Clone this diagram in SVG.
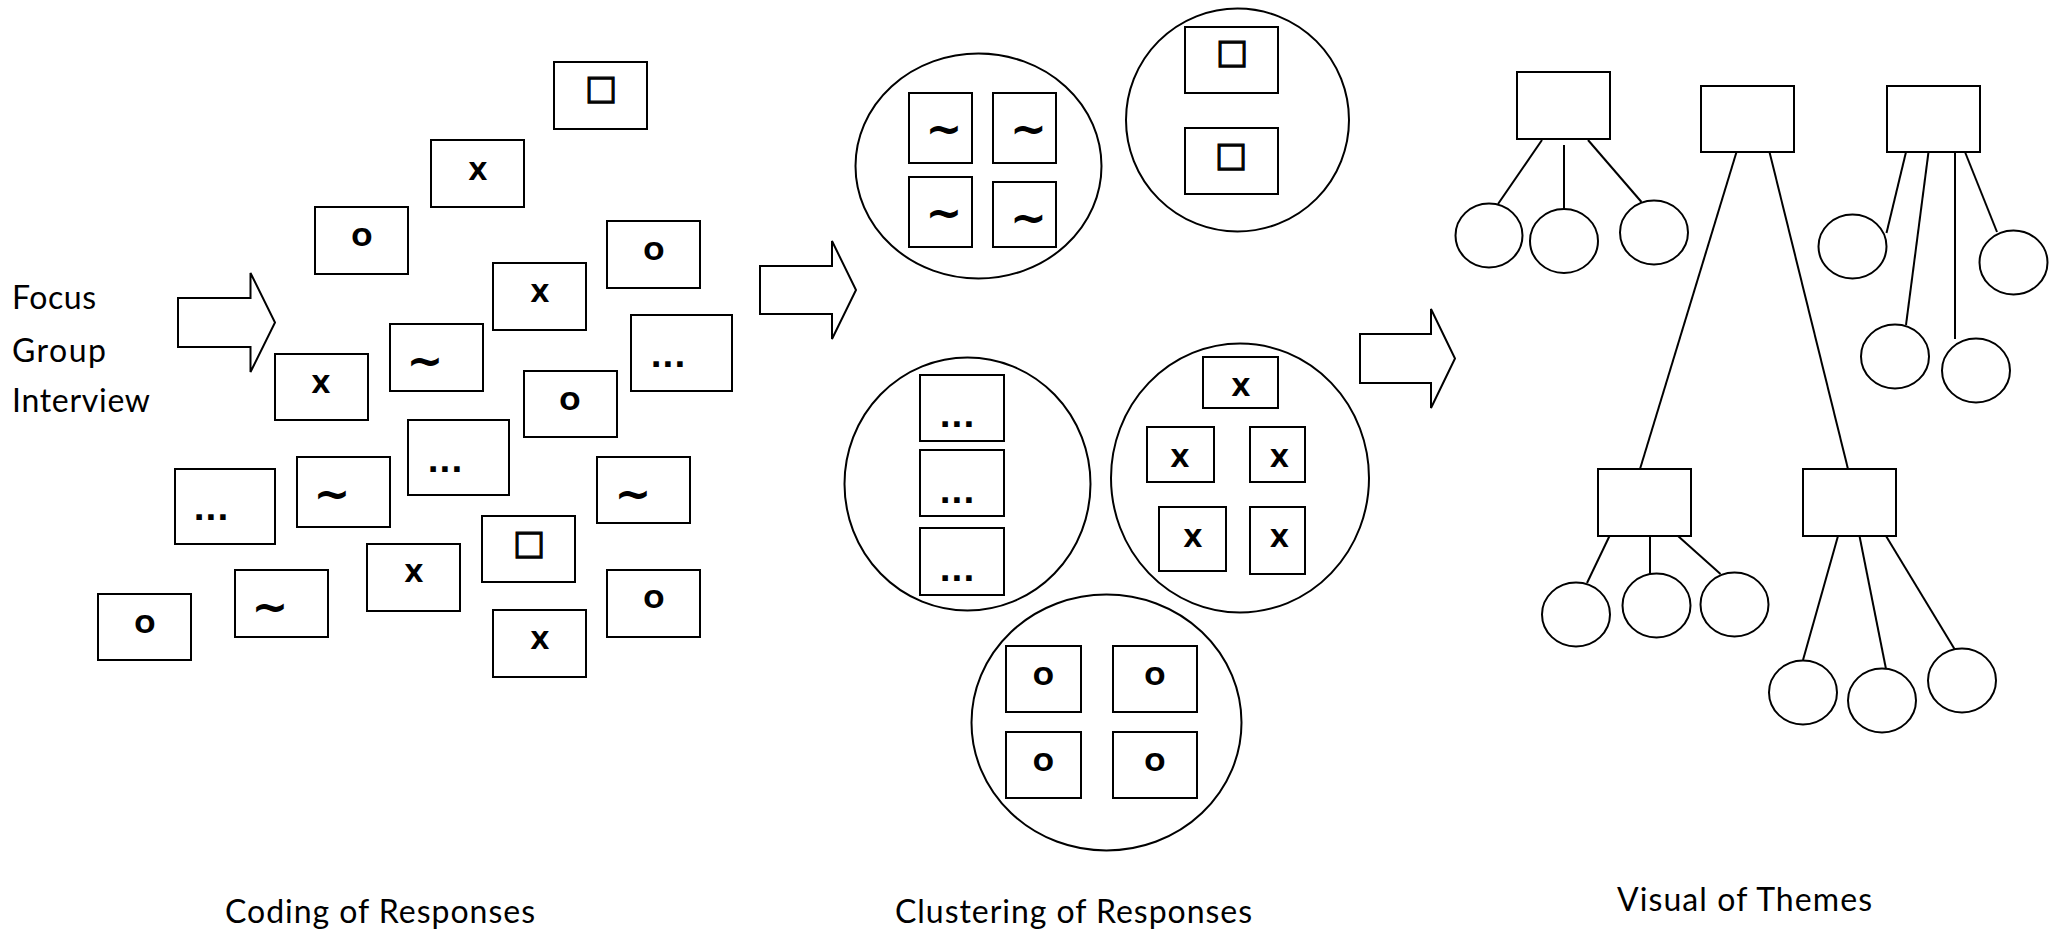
<svg xmlns="http://www.w3.org/2000/svg" width="2049" height="936" viewBox="0 0 2049 936">
  <style>
    .box { fill: #fff; stroke: #000; stroke-width: 2; }
    .oval { fill: #fff; stroke: #000; stroke-width: 2; }
    .link { fill: none; stroke: #000; stroke-width: 2; }
    .arrow { fill: #fff; stroke: #000; stroke-width: 2; stroke-linejoin: miter; }
    .sym { font-family: "DejaVu Sans", sans-serif; font-weight: bold; font-size: 25px; text-anchor: middle; fill: #000; }
    .dots { font-size: 31px; }
    .tilde { font-size: 44px; }
    .sq { font-size: 34px; stroke: #000; stroke-width: 1.2px; }
    .label { font-family: Lato, "Liberation Sans", sans-serif; font-size: 32px; fill: #000; }
  </style>

  <!-- Stage labels -->
  <g id="source-label">
    <text class="label" x="12" y="309" textLength="84">Focus</text>
    <text class="label" x="12" y="362" textLength="94">Group</text>
    <text class="label" x="12" y="412" textLength="138">Interview</text>
  </g>
  <g id="stage-labels">
    <text class="label" x="225" y="923" textLength="310">Coding of Responses</text>
    <text class="label" x="895" y="923" textLength="357">Clustering of Responses</text>
    <text class="label" x="1617" y="911" textLength="255">Visual of Themes</text>
  </g>

  <!-- Coded response cards -->
  <g id="coded-cards">
    <g id="card-1"><rect class="box" x="554" y="62" width="93" height="67"/><text class="sym sq" x="601" y="99">□</text></g>
    <g id="card-2"><rect class="box" x="431" y="140" width="93" height="67"/><text class="sym" x="478" y="180">X</text></g>
    <g id="card-3"><rect class="box" x="315" y="207" width="93" height="67"/><text class="sym" x="362" y="246">O</text></g>
    <g id="card-4"><rect class="box" x="607" y="221" width="93" height="67"/><text class="sym" x="654" y="260">O</text></g>
    <g id="card-5"><rect class="box" x="493" y="263" width="93" height="67"/><text class="sym" x="540" y="302">X</text></g>
    <g id="card-6"><rect class="box" x="631" y="315" width="101" height="76"/><text class="sym dots" x="668" y="367">...</text></g>
    <g id="card-7"><rect class="box" x="390" y="324" width="93" height="67"/><text class="sym tilde" x="425" y="376">~</text></g>
    <g id="card-8"><rect class="box" x="275" y="354" width="93" height="66"/><text class="sym" x="321" y="393">X</text></g>
    <g id="card-9"><rect class="box" x="524" y="371" width="93" height="66"/><text class="sym" x="570" y="410">O</text></g>
    <g id="card-10"><rect class="box" x="408" y="420" width="101" height="75"/><text class="sym dots" x="445" y="472">...</text></g>
    <g id="card-11"><rect class="box" x="297" y="457" width="93" height="70"/><text class="sym tilde" x="332" y="509">~</text></g>
    <g id="card-12"><rect class="box" x="175" y="469" width="100" height="75"/><text class="sym dots" x="211" y="520">...</text></g>
    <g id="card-13"><rect class="box" x="597" y="457" width="93" height="66"/><text class="sym tilde" x="633" y="509">~</text></g>
    <g id="card-14"><rect class="box" x="482" y="516" width="93" height="66"/><text class="sym sq" x="529" y="554">□</text></g>
    <g id="card-15"><rect class="box" x="367" y="544" width="93" height="67"/><text class="sym" x="414" y="582">X</text></g>
    <g id="card-16"><rect class="box" x="235" y="570" width="93" height="67"/><text class="sym tilde" x="270" y="622">~</text></g>
    <g id="card-17"><rect class="box" x="98" y="594" width="93" height="66"/><text class="sym" x="145" y="633">O</text></g>
    <g id="card-18"><rect class="box" x="607" y="570" width="93" height="67"/><text class="sym" x="654" y="608">O</text></g>
    <g id="card-19"><rect class="box" x="493" y="610" width="93" height="67"/><text class="sym" x="540" y="649">X</text></g>
  </g>

  <!-- Clusters of cards -->
  <g id="cluster-tilde">
    <ellipse class="oval" cx="978.5" cy="166" rx="123" ry="112.5"/>
    <rect class="box" x="909" y="93" width="63" height="70"/><text class="sym tilde" x="944" y="144">~</text>
    <rect class="box" x="993" y="93" width="63" height="70"/><text class="sym tilde" x="1028.5" y="144">~</text>
    <rect class="box" x="909" y="177" width="63" height="70"/><text class="sym tilde" x="944" y="228">~</text>
    <rect class="box" x="993" y="182" width="63" height="65"/><text class="sym tilde" x="1028.5" y="233">~</text>
  </g>
  <g id="cluster-square">
    <ellipse class="oval" cx="1237.5" cy="120" rx="111.5" ry="111.5"/>
    <rect class="box" x="1185" y="27" width="93" height="66"/><text class="sym sq" x="1232" y="63">□</text>
    <rect class="box" x="1185" y="128" width="93" height="66"/><text class="sym sq" x="1231" y="166">□</text>
  </g>
  <g id="cluster-dots">
    <ellipse class="oval" cx="967.5" cy="484" rx="123" ry="126.5"/>
    <rect class="box" x="920" y="375" width="84" height="66"/><text class="sym dots" x="957" y="427">...</text>
    <rect class="box" x="920" y="450" width="84" height="66"/><text class="sym dots" x="957" y="503">...</text>
    <rect class="box" x="920" y="528" width="84" height="67"/><text class="sym dots" x="957" y="581">...</text>
  </g>
  <g id="cluster-x">
    <ellipse class="oval" cx="1240" cy="478" rx="129" ry="134.5"/>
    <rect class="box" x="1203" y="357" width="75" height="51"/><text class="sym" x="1241" y="396">X</text>
    <rect class="box" x="1147" y="427" width="67" height="55"/><text class="sym" x="1180" y="467">X</text>
    <rect class="box" x="1250" y="427" width="55" height="55"/><text class="sym" x="1279.5" y="467">X</text>
    <rect class="box" x="1159" y="507" width="67" height="64"/><text class="sym" x="1193" y="547">X</text>
    <rect class="box" x="1250" y="507" width="55" height="67"/><text class="sym" x="1279.5" y="547">X</text>
  </g>
  <g id="cluster-o">
    <ellipse class="oval" cx="1106.5" cy="722.5" rx="135" ry="128"/>
    <rect class="box" x="1006" y="646" width="75" height="66"/><text class="sym" x="1043.5" y="685">O</text>
    <rect class="box" x="1113" y="646" width="84" height="66"/><text class="sym" x="1155" y="685">O</text>
    <rect class="box" x="1006" y="732" width="75" height="66"/><text class="sym" x="1043.5" y="771">O</text>
    <rect class="box" x="1113" y="732" width="84" height="66"/><text class="sym" x="1155" y="771">O</text>
  </g>

  <!-- Theme tree: connectors -->
  <g id="connectors">
    <line class="link" x1="1542" y1="140" x2="1498" y2="204"/>
    <line class="link" x1="1564" y1="145" x2="1564" y2="209"/>
    <line class="link" x1="1588" y1="140" x2="1641.5" y2="202"/>
    <line class="link" x1="1736.5" y1="152" x2="1640" y2="469"/>
    <line class="link" x1="1769.5" y1="152" x2="1848" y2="469"/>
    <line class="link" x1="1906" y1="152" x2="1886.5" y2="233"/>
    <line class="link" x1="1928.5" y1="152" x2="1906" y2="325"/>
    <line class="link" x1="1955" y1="152" x2="1955" y2="339"/>
    <line class="link" x1="1965" y1="152" x2="1997" y2="232"/>
    <line class="link" x1="1609.5" y1="536" x2="1587" y2="583"/>
    <line class="link" x1="1650" y1="536" x2="1650" y2="574"/>
    <line class="link" x1="1678" y1="536" x2="1720.5" y2="574"/>
    <line class="link" x1="1838" y1="536" x2="1803" y2="660"/>
    <line class="link" x1="1859.5" y1="536" x2="1886" y2="669"/>
    <line class="link" x1="1886" y1="536" x2="1954.5" y2="649"/>
  </g>

  <!-- Theme tree: nodes -->
  <g id="theme-a">
    <rect class="box" x="1517" y="72" width="93" height="67"/>
    <ellipse class="oval" cx="1489" cy="235.5" rx="33.5" ry="32"/>
    <ellipse class="oval" cx="1564" cy="241" rx="34" ry="32"/>
    <ellipse class="oval" cx="1654" cy="232.5" rx="34" ry="32"/>
  </g>
  <g id="theme-b">
    <rect class="box" x="1701" y="86" width="93" height="66"/>
  </g>
  <g id="theme-b1">
    <rect class="box" x="1598" y="469" width="93" height="67"/>
    <ellipse class="oval" cx="1576" cy="614.5" rx="34" ry="32"/>
    <ellipse class="oval" cx="1656.5" cy="605.5" rx="34" ry="32"/>
    <ellipse class="oval" cx="1734.5" cy="604.5" rx="34" ry="32"/>
  </g>
  <g id="theme-b2">
    <rect class="box" x="1803" y="469" width="93" height="67"/>
    <ellipse class="oval" cx="1803" cy="692.5" rx="34" ry="32"/>
    <ellipse class="oval" cx="1882" cy="700.5" rx="34" ry="32"/>
    <ellipse class="oval" cx="1962" cy="680.5" rx="34" ry="32"/>
  </g>
  <g id="theme-c">
    <rect class="box" x="1887" y="86" width="93" height="66"/>
    <ellipse class="oval" cx="1852.5" cy="246.5" rx="34" ry="32"/>
    <ellipse class="oval" cx="2013.5" cy="262.5" rx="34" ry="32"/>
    <ellipse class="oval" cx="1895" cy="356.5" rx="34" ry="32"/>
    <ellipse class="oval" cx="1976" cy="370.5" rx="34" ry="32"/>
  </g>

  <!-- Block arrows between stages -->
  <g id="flow-arrows">
    <polygon class="arrow" points="178,298 250.5,298 250.5,273 275,322.5 250.5,372 250.5,347 178,347"/>
    <polygon class="arrow" points="760,266 832,266 832,241 856,290 832,339 832,314 760,314"/>
    <polygon class="arrow" points="1360,334 1431,334 1431,309 1455,358.5 1431,408 1431,383 1360,383"/>
  </g>
</svg>
